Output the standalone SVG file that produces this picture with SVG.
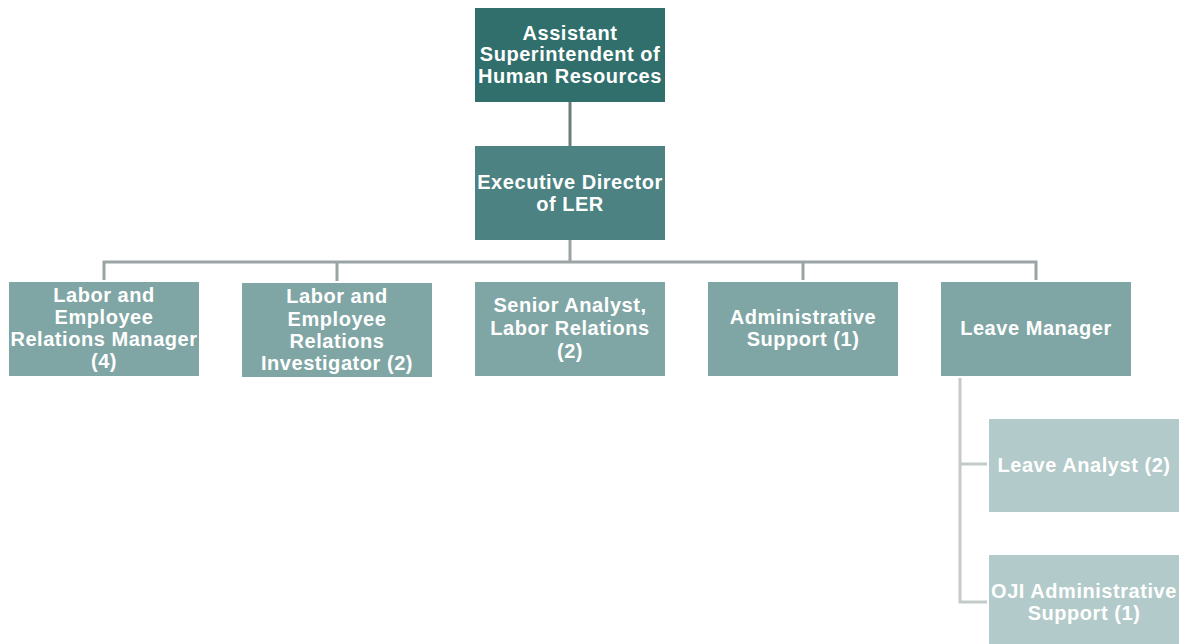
<svg xmlns="http://www.w3.org/2000/svg" width="1183" height="644" viewBox="0 0 1183 644">
<style>
text{font-family:"Liberation Sans",Arial,sans-serif;font-weight:bold;font-size:20px;fill:#fff;text-anchor:middle;letter-spacing:0.55px}
.l0{fill:#306f6c}.l1{fill:#4c8282}.l2{fill:#7fa6a5}.l3{fill:#b2cac9}
.c1{stroke:#6d7b7b;stroke-width:3;fill:none}
.c2{stroke:#9ba4a4;stroke-width:3;fill:none}
.c3{stroke:#c3cbca;stroke-width:3;fill:none}
</style>
<rect width="1183" height="644" fill="#fff"/>
<g id="connectors">
<path class="c1" d="M570 102V146"/>
<path class="c2" d="M570 240V262M104 280V262H1036V280M337 262V281M803 262V280"/>
<path class="c3" d="M960 378V602H987M960 464H987"/>
</g>
<g id="n-asst"><rect class="l0" x="475" y="8" width="190" height="94"/>
<text x="570" y="40">Assistant</text><text x="570" y="61">Superintendent of</text><text x="570" y="83">Human Resources</text></g>
<g id="n-exec"><rect class="l1" x="475" y="146" width="190" height="94"/>
<text x="570" y="189">Executive Director</text><text x="570" y="211">of LER</text></g>
<g id="n-lerm"><rect class="l2" x="9" y="282" width="190" height="94"/>
<text x="104" y="302">Labor and</text><text x="104" y="324">Employee</text><text x="104" y="346" letter-spacing="0.2">Relations Manager</text><text x="104" y="368">(4)</text></g>
<g id="n-leri"><rect class="l2" x="242" y="283" width="190" height="94"/>
<text x="337" y="303">Labor and</text><text x="337" y="326">Employee</text><text x="337" y="348">Relations</text><text x="337" y="370">Investigator (2)</text></g>
<g id="n-senior"><rect class="l2" x="475" y="282" width="190" height="94"/>
<text x="570" y="312">Senior Analyst,</text><text x="570" y="335">Labor Relations</text><text x="570" y="358">(2)</text></g>
<g id="n-admin"><rect class="l2" x="708" y="282" width="190" height="94"/>
<text x="803" y="324">Administrative</text><text x="803" y="346">Support (1)</text></g>
<g id="n-leave"><rect class="l2" x="941" y="282" width="190" height="94"/>
<text x="1036" y="335">Leave Manager</text></g>
<g id="n-analyst"><rect class="l3" x="989" y="419" width="190" height="93"/>
<text x="1084" y="472">Leave Analyst (2)</text></g>
<g id="n-oji"><rect class="l3" x="989" y="555" width="190" height="94"/>
<text x="1084" y="598" letter-spacing="0.2">OJI Administrative</text><text x="1084" y="620">Support (1)</text></g>
</svg>
